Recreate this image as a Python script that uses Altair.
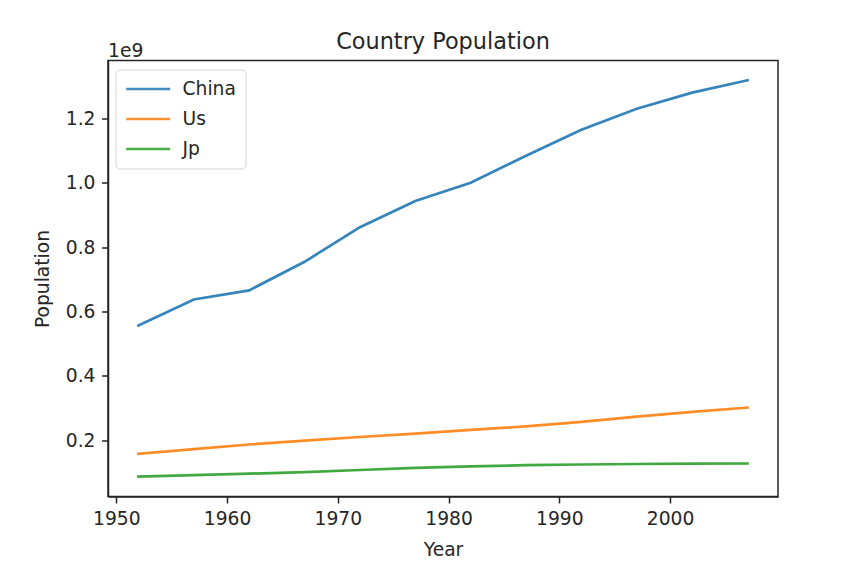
import altair as alt
import pandas as pd

years = [1952, 1957, 1962, 1967, 1972, 1977, 1982, 1987, 1992, 1997, 2002, 2007]
china = [556263527, 637408000, 665770000, 754550000, 862030000, 943455000,
         1000281000, 1084035000, 1164970000, 1230075000, 1280400000, 1318683096]
us = [157553000, 171984000, 186538000, 198712000, 209896000, 220239000,
      232187835, 242803533, 256894189, 272911760, 287675526, 301139947]
jp = [86459025, 91563009, 95831757, 100825279, 107188273, 113872473,
      118454974, 122091325, 124329269, 125956499, 127065841, 127467972]
series_names = ["China", "Us", "Jp"]
colors = ["#1f77b4", "#ff7f0e", "#2ca02c"]
x_ticks = [1950, 1960, 1970, 1980, 1990, 2000]
y_ticks = [0.2e9, 0.4e9, 0.6e9, 0.8e9, 1.0e9, 1.2e9]

rows = []
for name, vals in zip(series_names, [china, us, jp]):
    for y, v in zip(years, vals):
        rows.append({"Year": y, "Population": v, "Country": name})
df = pd.DataFrame(rows)

FONT = "DejaVu Sans"
FS = 18.7
TXT = "#262626"

allv = china + us + jp
ymin, ymax = min(allv), max(allv)
ypad = (ymax - ymin) * 0.05
xpad = (max(years) - min(years)) * 0.05

lines = alt.Chart(df).mark_line(strokeWidth=2.7, strokeCap="square", strokeOpacity=0.9).encode(
    x=alt.X("Year:Q",
            scale=alt.Scale(domain=[min(years) - xpad, max(years) + xpad], nice=False, zero=False),
            axis=alt.Axis(values=x_ticks, format="d", title="Year", titlePadding=12)),
    y=alt.Y("Population:Q",
            scale=alt.Scale(domain=[ymin - ypad, ymax + ypad], nice=False, zero=False),
            axis=alt.Axis(values=y_ticks, labelExpr="format(datum.value/1e9, '.1f')",
                          title="Population", titlePadding=13)),
    color=alt.Color("Country:N",
                    scale=alt.Scale(domain=series_names, range=colors),
                    sort=series_names,
                    legend=alt.Legend(title=None, orient="none", legendX=7.5, legendY=9,
                                      symbolType="M-1,0H4", symbolSize=310, symbolStrokeWidth=2.6,
                                      symbolOpacity=0.85,
                                      labelFontSize=FS, labelFont=FONT, labelColor=TXT,
                                      labelOffset=37, rowPadding=9, padding=9,
                                      strokeColor="#d4d4d4", fillColor="rgba(255,255,255,0.8)",
                                      cornerRadius=4)),
)

offset_text = alt.Chart(pd.DataFrame({"t": ["1e9"]})).mark_text(
    align="left", baseline="alphabetic", fontSize=FS, font=FONT, color=TXT
).encode(x=alt.value(0), y=alt.value(-4), text="t:N")

chart = alt.layer(lines, offset_text).properties(
    width=670, height=436,
    title=alt.TitleParams("Country Population", fontSize=22.4, font=FONT, fontWeight="normal",
                          color=TXT, anchor="middle", offset=8, dy=20),
    autosize=alt.AutoSizeParams(type="none"),
    padding={"left": 100, "top": 52.5, "right": 76, "bottom": 69.5},
).configure(background="white").configure_view(stroke="#262626", strokeWidth=1.5).configure_axis(
    labelFont=FONT, labelFontSize=FS, labelColor=TXT, tickColor=TXT, tickSize=6.5, tickWidth=1.5,
    labelPadding=6.5, domainColor=TXT, domainWidth=1.5, grid=False,
    titleFont=FONT, titleFontSize=FS, titleFontWeight="normal", titleColor=TXT,
)

chart.save("out.html", embed_options={"renderer": "svg", "actions": False})
